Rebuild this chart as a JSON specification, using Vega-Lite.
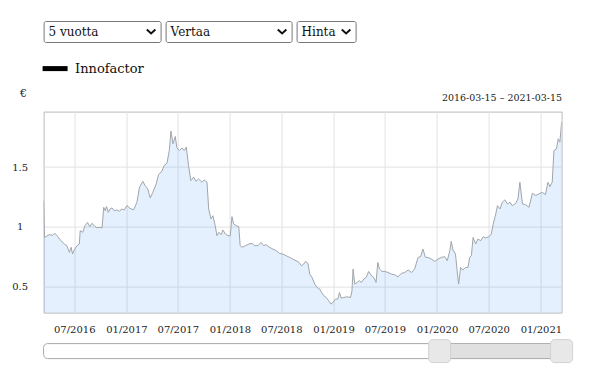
{
  "$schema": "https://vega.github.io/schema/vega-lite/v6.json",
  "padding": {"left": 10.6, "top": 20, "right": 5, "bottom": 5},
  "config": {"font": "DejaVu Serif", "view": {"stroke": null}},
  "bounds": "flush",
  "spacing": 90.6,
  "resolve": {"legend": {"opacity": "independent"}},
  "datasets": {
    "prices": [
      {"date": "2016-03-15", "price": 1.22},
      {"date": "2016-03-18", "price": 0.913},
      {"date": "2016-03-23", "price": 0.919},
      {"date": "2016-04-04", "price": 0.936},
      {"date": "2016-04-16", "price": 0.93},
      {"date": "2016-04-24", "price": 0.947},
      {"date": "2016-05-04", "price": 0.919},
      {"date": "2016-05-15", "price": 0.885},
      {"date": "2016-05-27", "price": 0.858},
      {"date": "2016-06-05", "price": 0.844},
      {"date": "2016-06-14", "price": 0.788},
      {"date": "2016-06-20", "price": 0.83},
      {"date": "2016-06-25", "price": 0.774},
      {"date": "2016-07-01", "price": 0.808},
      {"date": "2016-07-11", "price": 0.844},
      {"date": "2016-07-19", "price": 0.858},
      {"date": "2016-07-22", "price": 0.969},
      {"date": "2016-07-31", "price": 0.955},
      {"date": "2016-08-08", "price": 1.011},
      {"date": "2016-08-17", "price": 1.038},
      {"date": "2016-08-25", "price": 1.002},
      {"date": "2016-09-01", "price": 1.03},
      {"date": "2016-09-10", "price": 1.011},
      {"date": "2016-09-19", "price": 0.992},
      {"date": "2016-09-27", "price": 0.997},
      {"date": "2016-10-07", "price": 0.992},
      {"date": "2016-10-13", "price": 1.164},
      {"date": "2016-10-18", "price": 1.136},
      {"date": "2016-10-23", "price": 1.17},
      {"date": "2016-10-29", "price": 1.122},
      {"date": "2016-11-04", "price": 1.15},
      {"date": "2016-11-11", "price": 1.159},
      {"date": "2016-11-19", "price": 1.136},
      {"date": "2016-11-29", "price": 1.142},
      {"date": "2016-12-07", "price": 1.13},
      {"date": "2016-12-15", "price": 1.15},
      {"date": "2016-12-24", "price": 1.142},
      {"date": "2017-01-03", "price": 1.18},
      {"date": "2017-01-11", "price": 1.159},
      {"date": "2017-01-26", "price": 1.142},
      {"date": "2017-02-07", "price": 1.206},
      {"date": "2017-02-16", "price": 1.331},
      {"date": "2017-02-28", "price": 1.381},
      {"date": "2017-03-08", "price": 1.345},
      {"date": "2017-03-17", "price": 1.318},
      {"date": "2017-03-26", "price": 1.242},
      {"date": "2017-04-04", "price": 1.289},
      {"date": "2017-04-16", "price": 1.36},
      {"date": "2017-04-24", "price": 1.437},
      {"date": "2017-05-06", "price": 1.465},
      {"date": "2017-05-14", "price": 1.513},
      {"date": "2017-05-24", "price": 1.532},
      {"date": "2017-06-01", "price": 1.638},
      {"date": "2017-06-07", "price": 1.8},
      {"date": "2017-06-14", "price": 1.694},
      {"date": "2017-06-22", "price": 1.755},
      {"date": "2017-06-28", "price": 1.66},
      {"date": "2017-07-07", "price": 1.638},
      {"date": "2017-07-16", "price": 1.66},
      {"date": "2017-07-24", "price": 1.638},
      {"date": "2017-07-31", "price": 1.666},
      {"date": "2017-08-08", "price": 1.513},
      {"date": "2017-08-16", "price": 1.387},
      {"date": "2017-08-26", "price": 1.415},
      {"date": "2017-09-03", "price": 1.381},
      {"date": "2017-09-12", "price": 1.401},
      {"date": "2017-09-24", "price": 1.373},
      {"date": "2017-10-02", "price": 1.393},
      {"date": "2017-10-12", "price": 1.373},
      {"date": "2017-10-18", "price": 1.15},
      {"date": "2017-10-26", "price": 1.067},
      {"date": "2017-11-02", "price": 1.094},
      {"date": "2017-11-10", "price": 1.011},
      {"date": "2017-11-16", "price": 0.927},
      {"date": "2017-11-23", "price": 0.955},
      {"date": "2017-12-01", "price": 0.936},
      {"date": "2017-12-07", "price": 0.975},
      {"date": "2017-12-16", "price": 0.941},
      {"date": "2017-12-25", "price": 0.927},
      {"date": "2018-01-02", "price": 0.927},
      {"date": "2018-01-08", "price": 1.086},
      {"date": "2018-01-14", "price": 1.025},
      {"date": "2018-01-23", "price": 1.011},
      {"date": "2018-02-01", "price": 1.003},
      {"date": "2018-02-06", "price": 0.844},
      {"date": "2018-02-13", "price": 0.83},
      {"date": "2018-02-25", "price": 0.844},
      {"date": "2018-03-09", "price": 0.858},
      {"date": "2018-03-20", "price": 0.863},
      {"date": "2018-03-29", "price": 0.844},
      {"date": "2018-04-09", "price": 0.844},
      {"date": "2018-04-21", "price": 0.871},
      {"date": "2018-04-29", "price": 0.844},
      {"date": "2018-05-08", "price": 0.852},
      {"date": "2018-05-20", "price": 0.83},
      {"date": "2018-06-01", "price": 0.816},
      {"date": "2018-06-13", "price": 0.802},
      {"date": "2018-06-25", "price": 0.779},
      {"date": "2018-07-06", "price": 0.774},
      {"date": "2018-07-18", "price": 0.76},
      {"date": "2018-07-30", "price": 0.746},
      {"date": "2018-08-10", "price": 0.732},
      {"date": "2018-08-22", "price": 0.718},
      {"date": "2018-09-01", "price": 0.704},
      {"date": "2018-09-10", "price": 0.676},
      {"date": "2018-09-18", "price": 0.69},
      {"date": "2018-09-24", "price": 0.712},
      {"date": "2018-10-03", "price": 0.696},
      {"date": "2018-10-09", "price": 0.607},
      {"date": "2018-10-17", "price": 0.579},
      {"date": "2018-10-27", "price": 0.523},
      {"date": "2018-11-04", "price": 0.495},
      {"date": "2018-11-13", "price": 0.482},
      {"date": "2018-11-20", "price": 0.453},
      {"date": "2018-11-28", "price": 0.426},
      {"date": "2018-12-06", "price": 0.411},
      {"date": "2018-12-15", "price": 0.384},
      {"date": "2018-12-23", "price": 0.356},
      {"date": "2018-12-30", "price": 0.37},
      {"date": "2019-01-08", "price": 0.398},
      {"date": "2019-01-16", "price": 0.398},
      {"date": "2019-01-22", "price": 0.453},
      {"date": "2019-01-28", "price": 0.406},
      {"date": "2019-02-06", "price": 0.411},
      {"date": "2019-02-18", "price": 0.417},
      {"date": "2019-03-02", "price": 0.411},
      {"date": "2019-03-07", "price": 0.467},
      {"date": "2019-03-11", "price": 0.649},
      {"date": "2019-03-17", "price": 0.523},
      {"date": "2019-03-25", "price": 0.537},
      {"date": "2019-04-02", "price": 0.551},
      {"date": "2019-04-09", "price": 0.537},
      {"date": "2019-04-18", "price": 0.565},
      {"date": "2019-04-26", "price": 0.579},
      {"date": "2019-05-05", "price": 0.629},
      {"date": "2019-05-15", "price": 0.593},
      {"date": "2019-05-23", "price": 0.579},
      {"date": "2019-05-31", "price": 0.537},
      {"date": "2019-06-06", "price": 0.704},
      {"date": "2019-06-12", "price": 0.649},
      {"date": "2019-06-21", "price": 0.629},
      {"date": "2019-07-01", "price": 0.629},
      {"date": "2019-07-12", "price": 0.62},
      {"date": "2019-07-24", "price": 0.607},
      {"date": "2019-08-05", "price": 0.601},
      {"date": "2019-08-16", "price": 0.584},
      {"date": "2019-08-28", "price": 0.612},
      {"date": "2019-09-09", "price": 0.62},
      {"date": "2019-09-21", "price": 0.64},
      {"date": "2019-10-03", "price": 0.62},
      {"date": "2019-10-14", "price": 0.649},
      {"date": "2019-10-26", "price": 0.746},
      {"date": "2019-11-04", "price": 0.752},
      {"date": "2019-11-12", "price": 0.816},
      {"date": "2019-11-21", "price": 0.746},
      {"date": "2019-11-30", "price": 0.746},
      {"date": "2019-12-12", "price": 0.732},
      {"date": "2019-12-24", "price": 0.712},
      {"date": "2020-01-04", "price": 0.732},
      {"date": "2020-01-16", "price": 0.746},
      {"date": "2020-01-28", "price": 0.752},
      {"date": "2020-02-06", "price": 0.718},
      {"date": "2020-02-15", "price": 0.802},
      {"date": "2020-02-20", "price": 0.88},
      {"date": "2020-02-26", "price": 0.808},
      {"date": "2020-03-06", "price": 0.774},
      {"date": "2020-03-13", "price": 0.607},
      {"date": "2020-03-17", "price": 0.523},
      {"date": "2020-03-24", "price": 0.662},
      {"date": "2020-04-01", "price": 0.64},
      {"date": "2020-04-10", "price": 0.662},
      {"date": "2020-04-19", "price": 0.662},
      {"date": "2020-04-25", "price": 0.746},
      {"date": "2020-05-01", "price": 0.76},
      {"date": "2020-05-07", "price": 0.913},
      {"date": "2020-05-16", "price": 0.858},
      {"date": "2020-05-24", "price": 0.899},
      {"date": "2020-06-03", "price": 0.885},
      {"date": "2020-06-12", "price": 0.919},
      {"date": "2020-06-20", "price": 0.908},
      {"date": "2020-07-02", "price": 0.919},
      {"date": "2020-07-10", "price": 0.941},
      {"date": "2020-07-17", "price": 1.025},
      {"date": "2020-07-26", "price": 1.109},
      {"date": "2020-08-01", "price": 1.178},
      {"date": "2020-08-10", "price": 1.15},
      {"date": "2020-08-18", "price": 1.206},
      {"date": "2020-08-27", "price": 1.226},
      {"date": "2020-09-05", "price": 1.192},
      {"date": "2020-09-14", "price": 1.206},
      {"date": "2020-09-22", "price": 1.178},
      {"date": "2020-10-04", "price": 1.197},
      {"date": "2020-10-12", "price": 1.234},
      {"date": "2020-10-19", "price": 1.373},
      {"date": "2020-10-28", "price": 1.192},
      {"date": "2020-11-08", "price": 1.186},
      {"date": "2020-11-20", "price": 1.164},
      {"date": "2020-12-02", "price": 1.281},
      {"date": "2020-12-14", "price": 1.262},
      {"date": "2020-12-25", "price": 1.276},
      {"date": "2021-01-06", "price": 1.289},
      {"date": "2021-01-17", "price": 1.27},
      {"date": "2021-01-26", "price": 1.373},
      {"date": "2021-02-02", "price": 1.337},
      {"date": "2021-02-10", "price": 1.373},
      {"date": "2021-02-16", "price": 1.638},
      {"date": "2021-02-25", "price": 1.652},
      {"date": "2021-03-03", "price": 1.736},
      {"date": "2021-03-09", "price": 1.708},
      {"date": "2021-03-15", "price": 1.875}
    ],
    "controls": [
      {"label": "5 vuotta"},
      {"label": "Vertaa"},
      {"label": "Hinta"}
    ],
    "track": [{"from": "2016-03-15", "to": "2021-03-15"}],
    "window": [{"from": "2020-01-10", "to": "2021-03-15"}],
    "handles": [{"at": "2020-01-10"}, {"at": "2021-03-15"}]
  },
  "vconcat": [
    {
      "bounds": "flush",
      "spacing": 5,
      "hconcat": [
        {
          "width": 117, "height": 21,
          "view": {"stroke": "#767676", "cornerRadius": 2},
          "data": {"name": "controls"},
          "transform": [{"filter": "datum.label === '5 vuotta'"}],
          "layer": [
            {"mark": {"type": "text", "align": "left", "dx": 5, "fontSize": 12, "color": "#111"},
             "encoding": {"text": {"field": "label"}, "x": {"datum": 0, "type": "quantitative", "scale": {"domain": [0, 1]}, "axis": null}}},
            {"mark": {"type": "point", "shape": "M-1,-0.45L0,0.45L1,-0.45", "size": 74, "filled": false, "stroke": "#111", "strokeWidth": 2, "opacity": 1, "xOffset": -9.5},
             "encoding": {"x": {"datum": 1, "type": "quantitative", "scale": {"domain": [0, 1]}, "axis": null}}}
          ]
        },
        {
          "width": 126, "height": 21,
          "view": {"stroke": "#767676", "cornerRadius": 2},
          "data": {"name": "controls"},
          "transform": [{"filter": "datum.label === 'Vertaa'"}],
          "layer": [
            {"mark": {"type": "text", "align": "left", "dx": 5, "fontSize": 12, "color": "#111"},
             "encoding": {"text": {"field": "label"}, "x": {"datum": 0, "type": "quantitative", "scale": {"domain": [0, 1]}, "axis": null}}},
            {"mark": {"type": "point", "shape": "M-1,-0.45L0,0.45L1,-0.45", "size": 74, "filled": false, "stroke": "#111", "strokeWidth": 2, "opacity": 1, "xOffset": -9.5},
             "encoding": {"x": {"datum": 1, "type": "quantitative", "scale": {"domain": [0, 1]}, "axis": null}}}
          ]
        },
        {
          "width": 59, "height": 21,
          "view": {"stroke": "#767676", "cornerRadius": 2},
          "data": {"name": "controls"},
          "transform": [{"filter": "datum.label === 'Hinta'"}],
          "layer": [
            {"mark": {"type": "text", "align": "left", "dx": 5, "fontSize": 12, "color": "#111"},
             "encoding": {"text": {"field": "label"}, "x": {"datum": 0, "type": "quantitative", "scale": {"domain": [0, 1]}, "axis": null}}},
            {"mark": {"type": "point", "shape": "M-1,-0.45L0,0.45L1,-0.45", "size": 74, "filled": false, "stroke": "#111", "strokeWidth": 2, "opacity": 1, "xOffset": -9.5},
             "encoding": {"x": {"datum": 1, "type": "quantitative", "scale": {"domain": [0, 1]}, "axis": null}}}
          ]
        }
      ]
    },
    {
      "bounds": "flush",
      "spacing": 31,
      "resolve": {"legend": {"opacity": "independent"}},
      "vconcat": [
        {
          "width": 518, "height": 201,
          "view": {"stroke": "#b9bcc0"},
          "data": {"name": "prices"},
          "encoding": {
            "x": {
              "field": "date", "type": "temporal",
              "scale": {"domain": [{"year": 2016, "month": 3, "date": 15}, {"year": 2021, "month": 3, "date": 15}]},
              "axis": {
                "values": [
                  {"year": 2016, "month": 7, "date": 1}, {"year": 2017, "month": 1, "date": 1},
                  {"year": 2017, "month": 7, "date": 1}, {"year": 2018, "month": 1, "date": 1},
                  {"year": 2018, "month": 7, "date": 1}, {"year": 2019, "month": 1, "date": 1},
                  {"year": 2019, "month": 7, "date": 1}, {"year": 2020, "month": 1, "date": 1},
                  {"year": 2020, "month": 7, "date": 1}, {"year": 2021, "month": 1, "date": 1}
                ],
                "format": "%m/%Y", "title": null, "ticks": false, "tickSize": 0, "domain": false,
                "labelPadding": 12, "labelFontSize": 10, "labelColor": "#222", "labelOverlap": false, "labelFlush": false,
                "gridColor": "#e2e2e2", "grid": true
              }
            },
            "y": {
              "field": "price", "type": "quantitative",
              "scale": {"domain": [0.285, 1.963], "zero": false, "nice": false},
              "axis": {
                "values": [0.5, 1, 1.5], "format": ".2~f",
                "title": "€", "titleAngle": 0, "titleX": -20.6, "titleY": -18, "titleAlign": "center", "titleBaseline": "middle",
                "titleFontSize": 11, "titleFontWeight": "normal", "titleColor": "#222",
                "labelAlign": "center", "labelPadding": 24, "ticks": false, "tickSize": 0, "domain": false,
                "labelFontSize": 10, "labelColor": "#222", "gridColor": "#e2e2e2", "grid": true
              }
            }
          },
          "layer": [
            {"mark": {"type": "area", "fill": "#3e94f0", "fillOpacity": 0.14, "clip": true}},
            {
              "mark": {"type": "line", "stroke": "#a0a5aa", "strokeWidth": 1, "clip": true},
              "encoding": {
                "x": {
                  "field": "date", "type": "temporal",
                  "axis": {"orient": "top", "labels": false, "ticks": false, "domain": false, "grid": false,
                    "title": "2016-03-15 – 2021-03-15", "titleAnchor": "end", "titleFontSize": 9.5, "titleFontWeight": "normal",
                    "titlePadding": 9, "titleColor": "#222"}
                },
                "opacity": {
                  "datum": "Innofactor", "type": "nominal",
                  "scale": {"range": [1]},
                  "legend": {"orient": "top", "title": null, "symbolType": "stroke", "symbolStrokeColor": "#000",
                    "symbolStrokeWidth": 5, "symbolSize": 625, "symbolOffset": -3.5, "labelFontSize": 13, "labelColor": "#111",
                    "labelOffset": 5, "offset": 14, "padding": 0}
                }
              }
            }
          ],
          "resolve": {"axis": {"x": "independent"}}
        },
        {
          "width": 518, "height": 15,
          "layer": [
            {
              "data": {"name": "track"},
              "mark": {"type": "rect", "fill": "#ffffff", "stroke": "#a8a8a8", "strokeWidth": 1, "cornerRadius": 4, "height": 15},
              "encoding": {
                "x": {"field": "from", "type": "temporal", "scale": {"domain": [{"year": 2016, "month": 3, "date": 15}, {"year": 2021, "month": 3, "date": 15}]}, "axis": null},
                "x2": {"field": "to"},
                "y": {"datum": 0.5, "type": "quantitative", "scale": {"domain": [0, 1]}, "axis": null}
              }
            },
            {
              "data": {"name": "window"},
              "mark": {"type": "rect", "fill": "#e0e0e0", "height": 14},
              "encoding": {
                "x": {"field": "from", "type": "temporal"},
                "x2": {"field": "to"},
                "y": {"datum": 0.5, "type": "quantitative"}
              }
            },
            {
              "data": {"name": "handles"},
              "mark": {"type": "rect", "fill": "#e8e8e8", "stroke": "#d2d2d2", "strokeWidth": 1, "cornerRadius": 4, "width": 22, "height": 23},
              "encoding": {
                "x": {"field": "at", "type": "temporal"},
                "y": {"datum": 0.5, "type": "quantitative"}
              }
            }
          ]
        }
      ]
    }
  ]
}
